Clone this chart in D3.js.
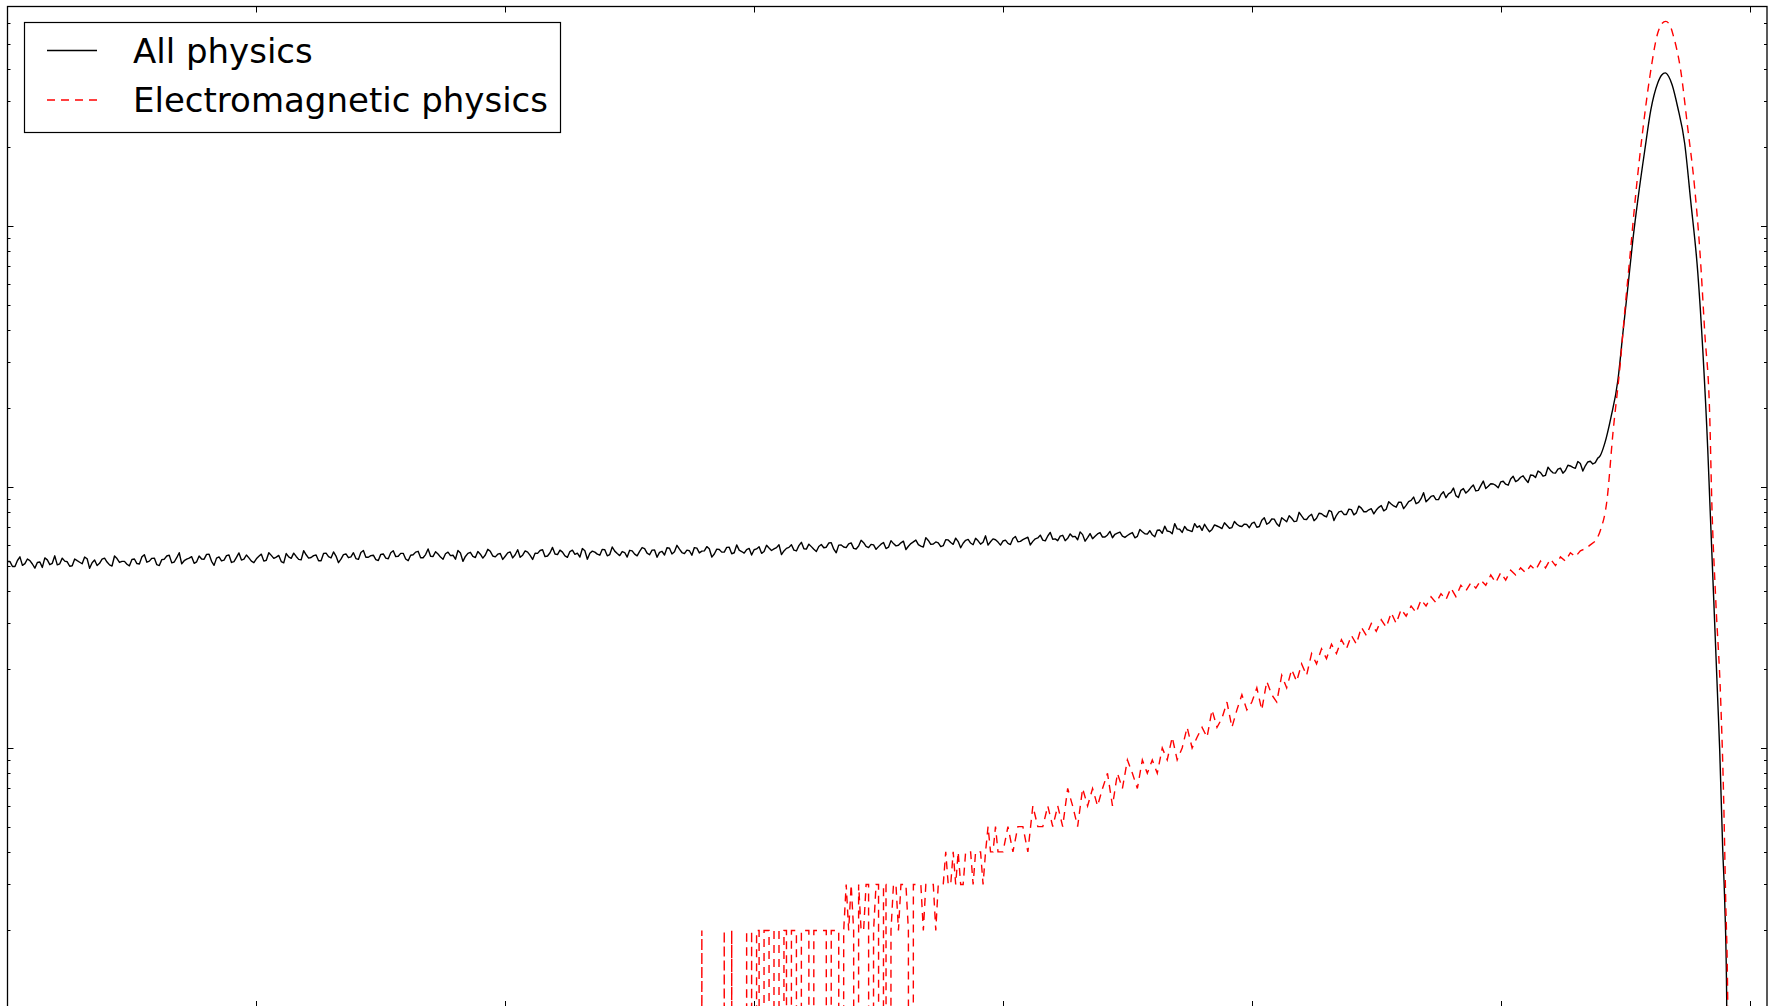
<!DOCTYPE html>
<html>
<head>
<meta charset="utf-8">
<script src="https://cdn.jsdelivr.net/npm/d3@7"></script>
<style>
  body { margin: 0; background: #fff; }
  svg { display: block; font-family: "DejaVu Sans", sans-serif; }
</style>
</head>
<body>
<div id="graph"></div>
<script>
// ---- data ----
// All physics, flat part: even bins (0.00, 0.02, ...) and odd bins (0.01, 0.03, ...)
const allEvenStart = 0;
const allOddStart = 0.01;
const allBinStep = 0.02;
const allEven = [
  51.8, 49.6, 52.3, 50.1, 53.0, 50.7, 51.4, 49.2, 52.6, 51.0, 50.3, 53.4, 51.7, 49.9, 52.2, 50.8, 53.1, 51.3, 50.0, 52.9, 51.6, 49.8, 53.2, 51.9, 50.6,
  52.8, 50.9, 54.0, 51.5, 53.3, 50.4, 52.7, 54.4, 51.2, 53.6, 50.8, 52.9, 54.1, 51.7, 53.0, 55.2, 51.9, 53.4, 52.1, 54.6, 51.4, 53.8, 52.5, 54.9, 52.0,
  53.1, 55.3, 52.4, 54.7, 53.9, 51.8, 55.6, 53.3, 54.2, 52.6, 55.0, 53.7, 54.9, 52.2, 55.8, 53.5, 54.4, 52.9, 55.4, 54.0, 53.2, 56.1, 53.8, 54.6, 52.7,
  55.2, 53.4, 56.0, 54.1, 55.7, 53.0, 54.8, 56.3, 53.6, 55.1, 54.3, 56.5, 53.9, 55.5, 54.6, 52.9, 55.9, 54.2, 56.2, 53.7, 55.3, 54.9, 56.7, 54.0, 55.6,
  54.3, 56.4, 55.0, 53.8, 56.9, 54.7, 55.8, 57.1, 54.1, 56.0, 55.4, 57.3, 54.5, 56.6, 55.2, 53.9, 57.0, 55.7, 56.3, 54.8, 57.5, 55.1, 56.8, 54.6, 56.1,
  57.2, 55.3, 56.7, 58.1, 55.0, 57.4, 56.2, 54.9, 58.3, 56.5, 57.8, 55.6, 57.0, 58.6, 55.9, 56.9, 58.0, 55.4, 57.6, 56.3, 58.8, 56.0, 57.3, 55.8, 58.2,
  57.5, 59.0, 56.6, 58.4, 57.9, 60.1, 56.9, 58.7, 57.3, 59.6, 58.0, 60.4, 57.7, 59.2, 58.5, 61.0, 57.8, 59.9, 58.9, 60.6, 58.2, 59.4, 61.2, 58.6, 60.0,
  59.1, 61.3, 58.8, 60.7, 59.8, 62.0, 59.3, 61.6, 60.2, 58.9, 62.4, 60.5, 61.1, 59.6, 62.7, 60.3, 61.8, 60.9, 63.0, 60.1, 62.2, 61.4, 59.9, 63.3, 61.5,
  62.1, 60.8, 63.5, 61.7, 62.9, 64.2, 61.9, 63.8, 62.6, 64.9, 63.1, 62.3, 65.3, 63.6, 64.5, 62.8, 65.7, 64.0, 63.4, 66.1, 64.3, 65.5, 63.9, 66.6, 64.8,
  65.2, 66.9, 64.7, 67.4, 66.0, 65.6, 68.3, 66.5, 67.8, 66.2, 69.1, 67.0, 68.6, 67.5, 70.0, 68.2, 69.4, 68.8, 70.9, 69.3, 71.2, 69.9, 72.0, 70.6, 71.8,
  72.5, 70.1, 74.6, 72.0, 75.4, 72.3, 76.2, 73.6, 75.9, 74.0, 77.5, 75.1, 78.6, 75.9, 79.0, 76.8, 80.4, 77.9, 80.8, 78.5, 81.9, 79.6, 83.0, 80.4, 82.6,
  81.6, 84.9, 82.2, 86.1, 83.7, 87.4, 85.0, 88.9, 86.3, 90.2, 87.8, 92.0, 89.5, 93.6, 91.0, 95.4, 92.7, 97.1, 94.8, 99.5, 96.6, 101.2, 98.7, 102.9, 101.4,
  104.6, 102.5, 107.3, 104.9, 109.0, 106.8, 111.2, 108.7, 113.5, 110.9, 115.8, 113.0, 118.1, 115.6, 120.4, 117.9, 123.0, 120.6, 125.5, 124.0
];
const allOdd = [
  51.8, 49.6, 54.0, 50.9, 52.2, 48.9, 51.6, 53.5, 50.4, 54.5, 50.8, 52.0, 49.7, 53.0, 51.5, 53.9, 48.8, 52.5, 51.0, 53.4, 50.3, 54.4, 51.4, 51.9, 49.9,
  53.0, 50.7, 55.0, 52.0, 53.4, 50.0, 52.9, 54.8, 51.6, 56.0, 52.2, 53.4, 51.0, 54.4, 52.9, 55.3, 50.1, 54.0, 52.5, 54.9, 51.8, 55.9, 52.9, 53.5, 51.3,
  54.3, 52.0, 56.0, 53.3, 54.7, 51.2, 54.0, 55.8, 52.8, 57.0, 53.4, 54.6, 52.2, 55.6, 54.1, 56.4, 51.3, 55.1, 53.6, 56.0, 52.8, 57.1, 53.8, 54.8, 52.3,
  55.4, 53.1, 57.0, 54.3, 55.7, 52.2, 55.0, 56.7, 53.6, 57.9, 54.2, 55.4, 52.9, 56.3, 54.8, 57.1, 51.9, 55.7, 54.2, 56.6, 53.4, 57.7, 54.4, 55.3, 52.8,
  55.9, 53.5, 57.5, 54.8, 56.3, 52.8, 55.7, 57.5, 54.4, 58.7, 55.1, 56.3, 53.8, 57.3, 55.8, 58.1, 52.9, 56.8, 55.3, 57.7, 54.5, 58.9, 55.6, 56.6, 53.9,
  56.9, 54.5, 58.6, 55.8, 57.3, 53.8, 56.7, 58.5, 55.4, 59.8, 56.1, 57.3, 54.8, 58.3, 56.8, 59.1, 53.9, 57.8, 56.3, 58.7, 55.5, 60.0, 56.6, 57.6, 54.9,
  57.9, 55.7, 59.8, 57.1, 58.6, 55.1, 58.2, 60.1, 56.9, 61.4, 57.8, 59.1, 56.6, 60.2, 58.8, 61.2, 56.0, 60.0, 58.6, 61.1, 57.9, 62.5, 59.2, 60.3, 57.7,
  60.4, 58.1, 62.3, 59.5, 61.1, 57.6, 60.7, 62.6, 59.4, 64.0, 60.3, 61.6, 59.1, 62.8, 61.3, 63.7, 58.5, 62.5, 61.0, 63.6, 60.4, 65.0, 61.7, 62.8, 59.9,
  62.6, 60.2, 64.6, 61.9, 63.6, 60.0, 63.3, 65.4, 62.2, 67.0, 63.3, 64.8, 62.3, 66.1, 64.7, 67.3, 62.0, 66.3, 64.8, 66.9, 64.3, 67.6, 65.9, 67.2, 64.1,
  66.1, 63.9, 68.8, 66.2, 68.0, 64.5, 68.4, 70.8, 67.5, 72.4, 68.9, 70.6, 68.1, 72.4, 71.0, 72.0, 67.4, 71.6, 70.2, 72.9, 69.5, 73.8, 70.9, 72.1, 69.8,
  73.3, 70.6, 76.2, 73.0, 75.3, 70.7, 74.9, 77.6, 73.7, 80.0, 75.2, 77.3, 74.3, 79.3, 77.6, 81.3, 74.4, 80.3, 78.5, 82.3, 78.2, 84.5, 80.4, 81.8, 78.9,
  83.6, 81.0, 87.8, 84.6, 87.5, 82.6, 87.9, 91.5, 87.3, 95.1, 89.8, 92.7, 89.5, 95.9, 94.2, 99.1, 91.1, 98.6, 96.8, 101.8, 97.1, 105.4, 100.6, 102.7, 99.3,
  105.2, 101.6, 109.9, 106.3, 110.4, 104.0, 110.8, 115.2, 110.0, 119.0, 113.3, 117.0, 113.0, 121.2, 119.0, 125.2, 115.2, 124.7, 122.5, 129.0
];
// All physics, the peak
const allPeakX = [6.40, 6.418, 6.443, 6.471, 6.491, 6.511, 6.531, 6.551, 6.579, 6.603, 6.631, 6.647, 6.661, 6.675, 6.689, 6.711,
  6.739, 6.763, 6.792, 6.812, 6.832, 6.840, 6.856, 6.872, 6.880, 6.892, 6.900, 6.908, 6.912];
const allPeakY = [132, 147, 185, 257, 389, 584, 884, 1259, 1955, 2780, 3532, 3790, 3860, 3740, 3470, 2857,
  2080, 1259, 661, 335, 139, 89, 37, 15.3, 9.8, 4.1, 2.6, 1.1, 0];

// Electromagnetic physics, low counts: bins from 2.76 every 0.01
const emLowStart = 2.76;
const emLowStep = 0.01;
const emLow = [
  0, 0, 0, 2, 0, 0, 0, 0, 0, 0,
  0, 0, 2, 0, 0, 2, 0, 0, 0, 0,
  0, 2, 0, 2, 0, 2, 2, 0, 2, 2,
  2, 0, 2, 2, 2, 0, 2, 2, 0, 2,
  2, 2, 0, 2, 2, 2, 2, 0, 2, 2,
  2, 2, 2, 2, 0, 2, 2, 2, 2, 0,
  2, 3, 2, 3, 2, 0, 3, 2, 2, 3,
  3, 0, 2, 3, 3, 0, 3, 3, 0, 2,
  3, 3, 2, 3, 3, 3, 2, 0, 3, 3,
  3, 3, 2, 3, 3, 3, 3, 2, 3, 3,
  3, 4, 3, 3, 4, 3, 4, 3, 3, 4,
  4, 4, 3, 4, 4, 4, 3, 4, 5, 4,
  4, 5, 4, 4
];
// Electromagnetic physics, rising part: bins from 4.00 every 0.02
const emMidStart = 4.00;
const emMidStep = 0.02;
const emMid = [
  4, 5, 4, 5, 5, 4, 6, 5, 5, 6,
  5, 6, 5, 7, 6, 5, 7, 6, 7, 6,
  7, 8, 6, 8, 7, 9, 8, 7, 9, 8,
  9, 8, 10, 9, 11, 9, 10, 12, 10, 11,
  12, 11, 14, 12, 13, 15, 12, 14, 16, 14,
  15, 17, 14, 18, 16, 15, 19, 17, 20, 18,
  21, 19, 23, 21, 24, 22, 25, 23, 26, 24,
  27, 25, 29, 27, 30, 28, 31, 29, 33, 30,
  34, 32, 35, 33, 37, 35, 38, 36, 39, 37,
  41, 38, 42, 40, 43, 41, 44, 42, 46, 43,
  47, 44, 48, 46, 49, 47, 50, 48, 52, 49,
  53, 50, 54, 52, 56, 54, 57, 58, 60, 62
];
// Electromagnetic physics, the peak
const emPeakX = [6.40, 6.427, 6.451, 6.479, 6.499, 6.519, 6.543, 6.571, 6.599, 6.631, 6.647, 6.663, 6.679, 6.695, 6.723,
  6.751, 6.779, 6.800, 6.820, 6.840, 6.848, 6.864, 6.884, 6.896, 6.904, 6.912, 6.916];
const emPeakY = [68, 89, 161, 288, 477, 760, 1337, 2333, 3723, 5486, 5950, 6080, 5900, 5300, 3962,
  2394, 1410, 809, 389, 185, 89, 37, 15.2, 6.3, 2.6, 1.1, 0];

const xTicks = [1, 2, 3, 4, 5, 6, 7];
const legendLabels = ['All physics', 'Electromagnetic physics'];

// ---- build the two series ----
function binned(start, step, values) {
  return values.map((v, i) => ({ x: start + i * step, v: v }));
}
function paired(xs, ys) {
  return xs.map((x, i) => ({ x: x, v: ys[i] }));
}
let allBins = binned(allEvenStart, allBinStep, allEven)
  .concat(binned(allOddStart, allBinStep, allOdd))
  .sort((a, b) => a.x - b.x);
let allPeak = paired(allPeakX, allPeakY);
let emBins = binned(emLowStart, emLowStep, emLow)
  .concat(binned(emMidStart, emMidStep, emMid));
let emPeak = paired(emPeakX, emPeakY);

// ---- layout ----
const W = 1769, H = 1006;
let plot = { left: 7.5, right: 1767, top: 6.5, bottom: 1007 };

let svg = d3.select('#graph').append('svg')
  .attr('width', W)
  .attr('height', H);

svg.append('rect').attr('width', W).attr('height', H).attr('fill', '#fff');

let x = d3.scaleLinear().domain([0, 7.07]).range([plot.left, plot.right]);
let y = d3.scaleLog().domain([1.018, 6934]).range([plot.bottom, plot.top]);

svg.append('clipPath').attr('id', 'clip')
  .append('rect')
  .attr('x', plot.left).attr('y', plot.top)
  .attr('width', plot.right - plot.left).attr('height', plot.bottom - plot.top);

// zero bins fall far below the axis, like matplotlib does on a log scale
let yPos = d => d.v > 0 ? y(d.v) : plot.bottom + 6000;
let jagged = d3.line().x(d => x(d.x)).y(yPos);
let smooth = d3.line().x(d => x(d.x)).y(yPos).curve(d3.curveMonotoneX);

// noisy bins drawn straight, the peak drawn smooth, all in one path
function seriesPath(bins, peak) {
  let tail = smooth([bins[bins.length - 1]].concat(peak)).replace(/^M[^A-Z]*/, '');
  return jagged(bins) + tail;
}

let lines = svg.append('g').attr('clip-path', 'url(#clip)');

lines.append('path')
  .attr('d', seriesPath(allBins, allPeak))
  .attr('fill', 'none')
  .attr('stroke', '#000')
  .attr('stroke-width', 1.4)
  .attr('stroke-linejoin', 'round');

lines.append('path')
  .attr('d', seriesPath(emBins, emPeak))
  .attr('fill', 'none')
  .attr('stroke', '#ff0000')
  .attr('stroke-width', 1.4)
  .attr('stroke-dasharray', '8,6');

// ---- ticks (inside, on all four sides) ----
let ticks = svg.append('g').attr('stroke', '#000').attr('stroke-width', 1);

xTicks.forEach(t => {
  let px = Math.round(x(t)) + 0.5;
  ticks.append('line').attr('x1', px).attr('x2', px).attr('y1', plot.bottom).attr('y2', plot.bottom - 6);
  ticks.append('line').attr('x1', px).attr('x2', px).attr('y1', plot.top).attr('y2', plot.top + 6);
});

y.ticks().forEach(t => {
  let major = Math.abs(Math.log10(t) - Math.round(Math.log10(t))) < 1e-9;
  let len = major ? 6 : 3;
  let py = Math.round(y(t)) + 0.5;
  ticks.append('line').attr('x1', plot.left).attr('x2', plot.left + len).attr('y1', py).attr('y2', py);
  ticks.append('line').attr('x1', plot.right).attr('x2', plot.right - len).attr('y1', py).attr('y2', py);
});

// ---- frame ----
svg.append('rect')
  .attr('x', plot.left).attr('y', plot.top)
  .attr('width', plot.right - plot.left).attr('height', plot.bottom - plot.top)
  .attr('fill', 'none')
  .attr('stroke', '#000')
  .attr('stroke-width', 1.3);

// ---- legend ----
let legend = svg.append('g');
legend.append('rect')
  .attr('x', 24.5).attr('y', 22.5)
  .attr('width', 536).attr('height', 110)
  .attr('fill', '#fff')
  .attr('stroke', '#000')
  .attr('stroke-width', 1.2);

let legendStyles = [
  { stroke: '#000', dash: null },
  { stroke: '#ff0000', dash: '8,6' }
];
legendLabels.forEach((label, i) => {
  let ly = 50.5 + i * 49.5;
  legend.append('line')
    .attr('x1', 47).attr('x2', 97)
    .attr('y1', ly).attr('y2', ly)
    .attr('stroke', legendStyles[i].stroke)
    .attr('stroke-width', 1.4)
    .attr('stroke-dasharray', legendStyles[i].dash);
  legend.append('text')
    .attr('x', 133).attr('y', ly)
    .attr('dy', '0.36em')
    .attr('font-size', 34)
    .attr('fill', '#000')
    .text(label);
});
</script>
</body>
</html>
